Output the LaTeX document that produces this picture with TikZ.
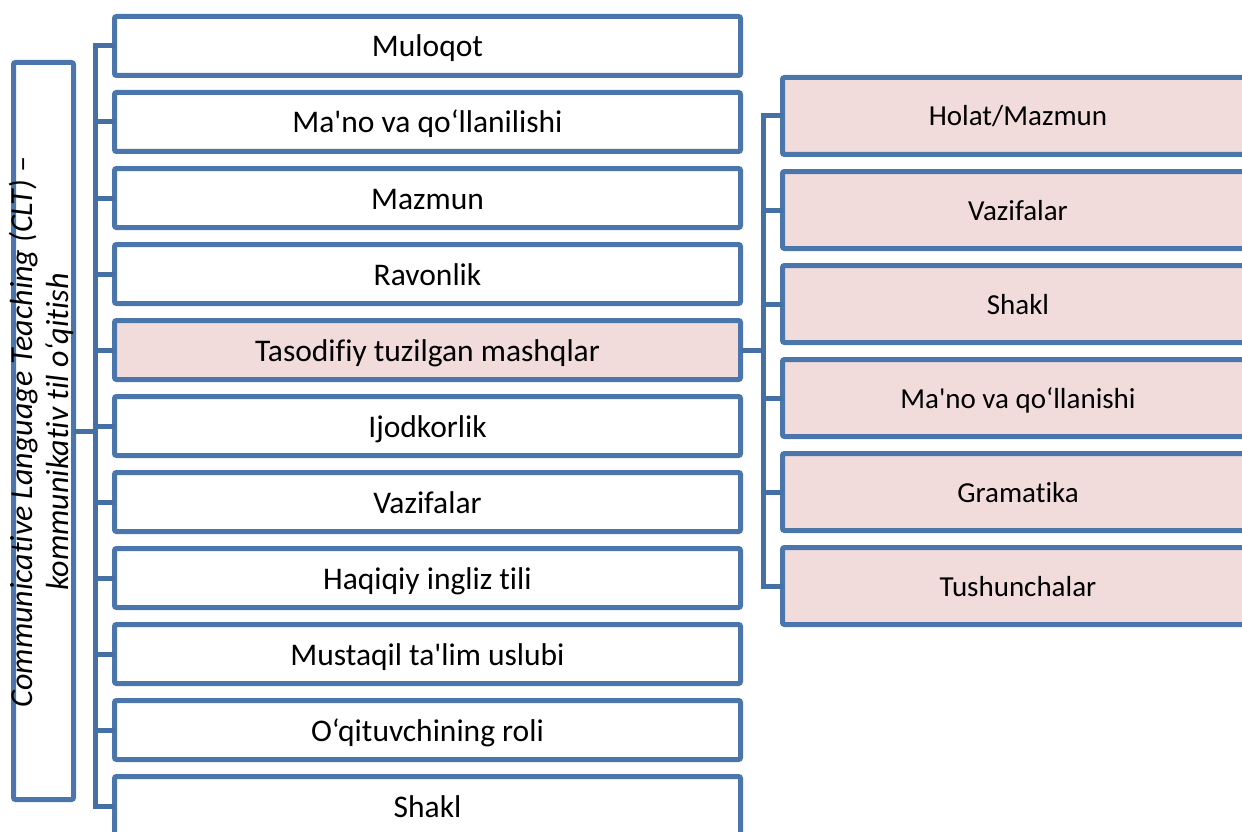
\documentclass[tikz,border=0pt]{standalone}
\usepackage{fontspec}
\setmainfont{Carlito}[Ligatures={TeXOff,CommonOff}]
\definecolor{bstroke}{HTML}{4A76AC}
\definecolor{cstroke}{HTML}{4470A5}
\definecolor{pinkfill}{HTML}{F2DCDB}
\begin{document}
\begin{tikzpicture}[x=1pt,y=-1pt,
  mainbox/.style={draw=bstroke, line width=5pt, rounded corners=2pt, fill=white,
    minimum width=626pt, minimum height=59pt, inner sep=0pt,
    text height=26pt, text depth=4pt,
    font=\fontsize{31.5}{36}\selectfont},
  hilite/.style={fill=pinkfill},
  subbox/.style={draw=bstroke, line width=5pt, rounded corners=2pt, fill=pinkfill,
    minimum width=471pt, minimum height=77pt, inner sep=0pt,
    text height=24pt, text depth=4pt,
    font=\fontsize{29}{34}\selectfont},
  conn/.style={draw=cstroke, line width=5pt, line cap=rect, line join=miter},
]
\useasboundingbox (0,0) rectangle (1242,832);
\clip (0,0) rectangle (1242,832);
% left box
\node[draw=bstroke, line width=5pt, rounded corners=2pt, minimum width=60pt, minimum height=737pt, inner sep=0pt] (lbox) at (43.5,431) {};
\node[rotate=90, align=center, inner sep=0pt, font=\fontsize{32}{36}\selectfont\itshape] (ltext) at (41.5,432) {Communicative Language Teaching (CLT) –\\kommunikativ til o‘qitish};
% main column
\node[mainbox] (m1) at (427.5,46) {Muloqot};
\node[mainbox] (m2) at (427.5,122) {Ma'no va qo‘llanilishi};
\node[mainbox] (m3) at (427.5,198) {Mazmun};
\node[mainbox] (m4) at (427.5,274) {Ravonlik};
\node[mainbox, hilite] (m5) at (427.5,350) {Tasodifiy tuzilgan mashqlar};
\node[mainbox] (m6) at (427.5,426) {Ijodkorlik};
\node[mainbox] (m7) at (427.5,502) {Vazifalar};
\node[mainbox] (m8) at (427.5,578) {Haqiqiy ingliz tili};
\node[mainbox] (m9) at (427.5,654) {Mustaqil ta'lim uslubi};
\node[mainbox] (m10) at (427.5,730) {O‘qituvchining roli};
\node[mainbox] (m11) at (427.5,806) {Shakl};
% sub column
\node[subbox] (s1) at (1018,116) {Holat/Mazmun};
\node[subbox] (s2) at (1018,210) {Vazifalar};
\node[subbox] (s3) at (1018,304) {Shakl};
\node[subbox] (s4) at (1018,398) {Ma'no va qo‘llanishi};
\node[subbox] (s5) at (1018,492) {Gramatika};
\node[subbox] (s6) at (1018,586) {Tushunchalar};
% trunks
\coordinate (tr1) at (95,431);
\coordinate (tr2) at (763,350);
\draw[conn] (m1.west) -- (m1.west -| tr1) -- (m11.west -| tr1) -- (m11.west);
\foreach \i in {2,...,10} {\draw[conn] (m\i.west) -- (m\i.west -| tr1);}
\draw[conn] (lbox.east) -- (tr1);
\draw[conn] (s1.west) -- (s1.west -| tr2) -- (s6.west -| tr2) -- (s6.west);
\foreach \i in {2,...,5} {\draw[conn] (s\i.west) -- (s\i.west -| tr2);}
\draw[conn] (m5.east) -- (tr2);
\end{tikzpicture}
\end{document}
